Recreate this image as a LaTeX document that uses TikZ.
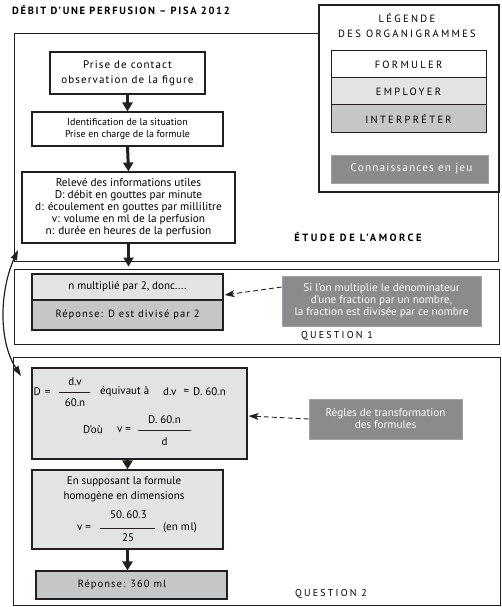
\documentclass[tikz,border=0pt]{standalone}
\usepackage{fontspec}
\setmainfont{PT Sans}
\newfontfamily\trk{PT Sans}[LetterSpace=10]
\newfontfamily\trkb{PT Sans}[LetterSpace=16]
\newfontfamily\trke{PT Sans}[LetterSpace=24]
\newfontfamily\trkw{PT Sans}[LetterSpace=22]
\usetikzlibrary{arrows.meta}
\definecolor{emp}{RGB}{226,227,228}
\definecolor{intc}{RGB}{197,198,200}
\definecolor{conc}{RGB}{138,139,141}
\definecolor{ink}{RGB}{35,31,32}
\tikzset{
  frame/.style={draw=ink, line width=1pt, inner sep=0pt},
  box/.style={draw=ink, line width=1.1pt, inner sep=1pt, align=center, font=\fontsize{11}{12}\selectfont},
  kbox/.style={fill=conc, draw=conc!80!white, line width=0.6pt, inner sep=1pt, align=center, text=white, font=\fontsize{11.2}{12}\selectfont},
  lbox/.style={draw=ink, line width=1pt, inner sep=0pt, minimum width=155pt, minimum height=27pt, font=\trkw\fontsize{10.5}{12}\selectfont},
  txt/.style={inner sep=0pt, font=\fontsize{11}{12}\selectfont},
  arr/.style={draw=ink, line width=3pt, -{Triangle[width=10pt,length=9pt]}},
  darr/.style={draw=ink, line width=0.9pt, dash pattern=on 5pt off 3pt, -{Stealth[width=7pt,length=10pt,inset=2.5pt]}},
  carr/.style={draw=ink, line width=1.2pt, {Triangle[width=6.5pt,length=10pt]}-{Triangle[width=6.5pt,length=10pt]}},
}
\begin{document}
\begin{tikzpicture}[x=1pt,y=-1pt]
\useasboundingbox (0,0) rectangle (502,607);
% title
\node[anchor=west, inner sep=0pt, font=\trkb\bfseries\fontsize{10.5}{12}\selectfont] (title) at (12,10) {DÉBIT D’UNE PERFUSION – PISA 2012};
% frames
\node[frame, minimum width=484pt, minimum height=227pt] (f1) at (256,147.5) {};
\node[frame, minimum width=485pt, minimum height=75pt] (f2) at (256.5,306.5) {};
\node[frame, minimum width=487pt, minimum height=248pt] (f3) at (256.5,481) {};
% legend
\node[draw=ink, fill=white, line width=1.9pt, minimum width=180pt, minimum height=187pt] (leg) at (409,98.5) {};
\node[align=center, inner sep=0pt, font=\trkw\fontsize{10.5}{15}\selectfont] (legt) at (407,25.5) {LÉGENDE\\DES ORGANIGRAMMES};
\node[lbox, fill=white] (lf) at (408.5,64.5) {FORMULER};
\node[lbox, fill=emp] (le) at (408.5,91.5) {EMPLOYER};
\node[lbox, fill=intc] (li) at (408.5,118.5) {INTERPRÉTER};
\node[kbox, minimum width=157pt, minimum height=28pt, font=\trk\fontsize{11.3}{12}\selectfont] (lc) at (409.5,169) {\hspace{4pt}Connaissances en jeu};
% frame 1 content
\node[box, fill=white, minimum width=155pt, minimum height=42pt, font=\trk\fontsize{11}{15}\selectfont] (b1) at (127.5,73) {Prise de contact\\observation de la figure};
\node[box, fill=white, minimum width=191pt, minimum height=34pt, font=\fontsize{10}{12}\selectfont] (b2) at (127.5,129) {Identification de la situation\\Prise en charge de la formule};
\node[box, fill=white, minimum width=213pt, minimum height=71pt, font=\fontsize{11.3}{12}\selectfont] (b3) at (128.5,207.5) {Relevé des informations utiles\\D: débit en gouttes par minute\\d: écoulement en gouttes par millilitre\\v: volume en ml de la perfusion\\n: durée en heures de la perfusion};
\node[inner sep=0pt, font=\trke\bfseries\fontsize{10.5}{12}\selectfont] (et) at (358,237) {ÉTUDE DE L’AMORCE};
\draw[arr] (b1.south) -- (b2.north);
\draw[arr] (b2.south) -- (b3.north);
\draw[arr, shorten >=2pt] (b3.south) -- (b3.south |- f2.north);
% frame 2 content
\node[box, fill=emp, minimum width=191pt, minimum height=26pt] (q1a) at (127.5,287) {n multiplié par 2, donc....};
\node[box, fill=intc, minimum width=191pt, minimum height=30pt, font=\trk\fontsize{10.5}{12}\selectfont] (q1b) at (127.5,315) {Réponse: D est divisé par 2};
\node[kbox, minimum width=199pt, minimum height=50pt] (si) at (381.5,301) {Si l’on multiplie le dénominateur\\d’une fraction par un nombre,\\la fraction est divisée par ce nombre};
\node[inner sep=0pt, font=\trkw\fontsize{10}{12}\selectfont] (qu1) at (337,336) {QUESTION 1};
\draw[darr] ([yshift=14pt]si.west) -- ([yshift=-8pt, xshift=1pt]q1a.east);
% frame 3 content
\node[box, fill=emp, minimum width=215pt, minimum height=91pt] (bD) at (139.5,413.5) {};
\node[txt, anchor=west] (dA) at (33.5,392) {D\hspace{4pt}=};
\node[txt] (dn1) at (75,382) {d.v};
\node[txt] (dd1) at (75,403) {60.n};
\draw[ink, line width=0.7pt] (59,392) -- (90,392);
\node[txt, anchor=west] (deq) at (100,392) {équivaut à};
\node[txt, anchor=west] (dB1) at (163,392) {d.v};
\node[txt] (dB2) at (186.5,392) {=};
\node[txt, anchor=west] (dB3) at (193,392) {D.\hspace{3pt}60.n};
\node[txt, anchor=west] (dou) at (83,430) {D’où};
\node[txt, anchor=west] (dv) at (117,430) {v\hspace{3pt}=};
\node[txt] (dn2) at (164.5,420) {D.\hspace{3pt}60.n};
\node[txt] (dd2) at (164.5,442) {d};
\draw[ink, line width=0.7pt] (138,430) -- (191,430);
\node[kbox, minimum width=153pt, minimum height=40pt] (rg) at (385.5,419) {Règles de transformation\\des formules};
\draw[darr] (rg.west) -- ([yshift=-2.5pt, xshift=1pt]bD.east);
\node[box, fill=emp, minimum width=191pt, minimum height=79pt] (bE) at (127.5,509.5) {};
\node[txt, align=center, font=\fontsize{11}{15}\selectfont] (eT) at (124,489.5) {En supposant la formule\\homogène en dimensions};
\node[txt, anchor=west] (ev) at (77,528) {v\hspace{3pt}=};
\node[txt] (en) at (128.5,515) {50.\hspace{2pt}60.3};
\node[txt] (ed) at (128,538) {25};
\draw[ink, line width=0.7pt] (100,528) -- (155,528);
\node[txt, anchor=west] (eml) at (163,528) {(en m\hspace{1pt}l)};
\node[box, fill=intc, minimum width=191pt, minimum height=28pt] (r2) at (131.5,585) {};
\node[txt, font=\trk\fontsize{10.5}{12}\selectfont] (r2t) at (122,584.5) {Réponse: 360 ml};
\node[inner sep=0pt, font=\trkw\fontsize{10}{12}\selectfont] (qu2) at (331,594) {QUESTION 2};
\draw[arr] (bE.north |- bD.south) -- (bE.north);
\draw[arr] (bE.south) -- (bE.south |- r2.north);
% curved double arrow
\coordinate (c1) at (18,250);
\coordinate (c2) at (21,376);
\draw[carr] (c1) .. controls (0,290) and (-2,340) .. (c2);
\end{tikzpicture}
\end{document}
